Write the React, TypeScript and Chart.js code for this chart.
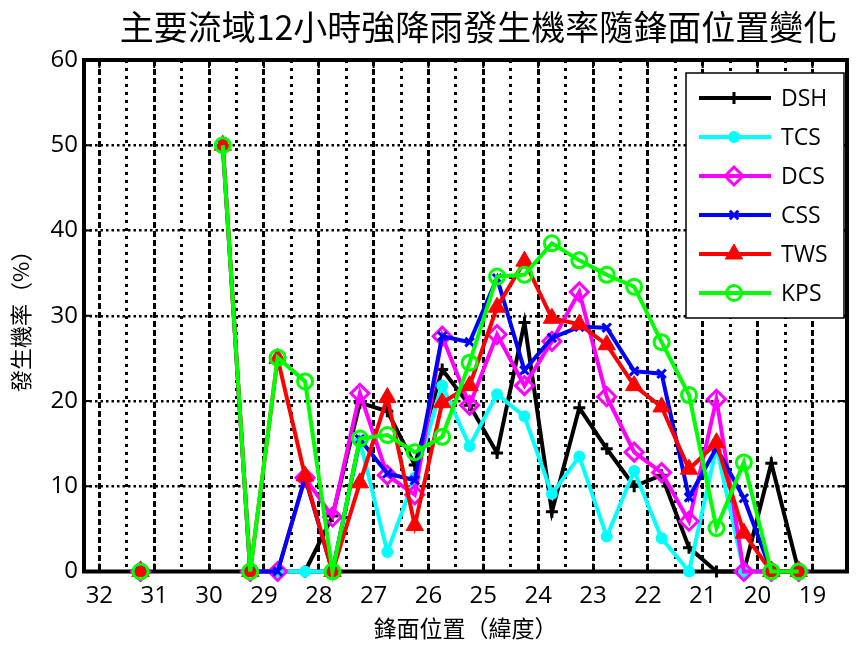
import React, { useEffect, useRef } from 'react';
import { Chart, registerables } from 'chart.js';
import { drawPoint } from 'chart.js/helpers';

Chart.register(...registerables);

// ---- data ----
const latitudes = [31.25, 30.75, 30.25, 29.75, 29.25, 28.75, 28.25, 27.75, 27.25, 26.75, 26.25, 25.75, 25.25, 24.75, 24.25, 23.75, 23.25, 22.75, 22.25, 21.75, 21.25, 20.75, 20.25, 19.75, 19.25];
const gridValues = [32, 31.5, 31, 30.5, 30, 29.5, 29, 28.5, 28, 27.5, 27, 26.5, 26, 25.5, 25, 24.5, 24, 23.5, 23, 22.5, 22, 21.5, 21, 20.5, 20, 19.5, 19];
const seriesNames = ['DSH', 'TCS', 'DCS', 'CSS', 'TWS', 'KPS'];

const dsh = [null, null, null, null, null, null, 0, 6.5, 19.8, 18.8, 12.5, 23.7, 19.5, 13.9, 29.2, 7, 19.2, 14.4, 10, 11.3, 2.8, 0, 0, 12.7, 0];
const tcs = [null, null, null, null, null, 0, 0, 0, 15.3, 2.3, 11, 21.8, 14.7, 20.8, 18.2, 9.1, 13.5, 4.1, 11.8, 3.9, 0, 14.6, 0, 0, 0];
const dcs = [0, null, null, null, 0, 0, 11, 6.4, 20.9, 11.3, 9, 27.6, 19.5, 27.8, 21.8, 27, 32.8, 20.5, 14, 11.6, 5.9, 20.2, 0, 0, 0];
const css = [0, null, null, 50, 0, 0, 11, 0, 15.5, 11.5, 10.7, 27.6, 26.9, 34.4, 23.6, 27.4, 28.7, 28.6, 23.5, 23.2, 8.7, 14.5, 8.6, 0, 0];
const tws = [0, null, null, 50, 0, 25, 11.2, 0, 10.4, 20.4, 5.4, 19.8, 21.8, 31, 36.4, 29.7, 29, 26.6, 21.8, 19.3, 12, 15.1, 4.5, 0, 0];
const kps = [0, null, null, 50, 0, 25.1, 22.3, 0, 15.6, 16, 14, 15.8, 24.5, 34.6, 34.8, 38.5, 36.5, 34.8, 33.4, 26.9, 20.7, 5.1, 12.8, 0, 0];

const yTicks = [0, 10, 20, 30, 40, 50, 60];

const titleText = '主要流域12小時強降雨發生機率隨鋒面位置變化';
const xTitle = '鋒面位置（緯度）';
const yTitle = '發生機率（%）';

// ---- styles ----
const seriesValues = [dsh, tcs, dcs, css, tws, kps];
const lineColors = ['#000000', '#00ffff', '#ff00ff', '#0000ff', '#ff0000', '#00ff00'];
const markerStyles = ['cross', 'circle', 'rectRot', 'crossRot', 'triangle', 'circle'];
const markerRadii = [6, 5, 9, 6, 10, 7.5];
const markerFill = ['#000000', '#00ffff', 'rgba(0,0,0,0)', '#0000ff', '#ff0000', 'rgba(0,0,0,0)'];
const markerBorder = [3, 2, 3, 3, 1, 3];

const CJK = '"Noto Sans CJK TC", "Noto Sans CJK SC", sans-serif';
const SANS = '"Open Sans", "Liberation Sans", sans-serif';

const framePlugin = {
  id: 'frame',
  beforeDatasetsDraw(chart: any) {
    const { ctx, chartArea: a, scales } = chart;
    ctx.save();
    ctx.setLineDash([]);
    ctx.strokeStyle = '#000';
    ctx.lineWidth = 2;
    yTicks.forEach((v) => {
      const y = scales.y.getPixelForValue(v);
      ctx.beginPath();
      ctx.moveTo(a.left, y); ctx.lineTo(a.left + 8, y);
      ctx.moveTo(a.right, y); ctx.lineTo(a.right - 8, y);
      ctx.stroke();
    });
    gridValues.filter((v) => Number.isInteger(v)).forEach((v) => {
      const x = scales.x.getPixelForValue(v);
      ctx.beginPath();
      ctx.moveTo(x, a.bottom); ctx.lineTo(x, a.bottom - 8);
      ctx.moveTo(x, a.top); ctx.lineTo(x, a.top + 8);
      ctx.stroke();
    });
    ctx.lineWidth = 4;
    ctx.strokeRect(a.left, a.top, a.right - a.left, a.bottom - a.top);
    ctx.restore();
  },
};

const titlePlugin = {
  id: 'topTitle',
  afterDraw(chart: any) {
    const { ctx, chartArea: a } = chart;
    ctx.save();
    ctx.fillStyle = '#000';
    ctx.font = `34px ${CJK}`;
    ctx.textAlign = 'center';
    ctx.textBaseline = 'middle';
    ctx.fillText(titleText, (a.left + a.right) / 2 + 13, a.top - 33);
    ctx.restore();
  },
};

const legendPlugin = {
  id: 'boxLegend',
  afterDraw(chart: any) {
    const { ctx, chartArea: a } = chart;
    const w = 158;
    const h = 245;
    const left = a.right - 3 - w;
    const top = a.top + 13;
    ctx.save();
    ctx.setLineDash([]);
    ctx.fillStyle = '#fff';
    ctx.fillRect(left, top, w, h);
    ctx.strokeStyle = '#000';
    ctx.lineWidth = 1.5;
    ctx.strokeRect(left, top, w, h);
    chart.data.datasets.forEach((ds: any, i: number) => {
      const y = top + 25 + i * 39;
      ctx.strokeStyle = ds.borderColor;
      ctx.lineWidth = 4;
      ctx.beginPath();
      ctx.moveTo(left + 13, y);
      ctx.lineTo(left + 85, y);
      ctx.stroke();
      ctx.fillStyle = ds.pointBackgroundColor;
      ctx.strokeStyle = ds.pointBorderColor;
      ctx.lineWidth = ds.pointBorderWidth;
      drawPoint(ctx, { pointStyle: ds.pointStyle, radius: ds.pointRadius, borderWidth: ds.pointBorderWidth, rotation: 0 } as any, left + 48, y);
      ctx.fillStyle = '#000';
      ctx.font = `23px ${SANS}`;
      ctx.textAlign = 'left';
      ctx.textBaseline = 'middle';
      ctx.fillText(ds.label, left + 95, y + 1);
    });
    ctx.restore();
  },
};

export default function App() {
  const ref = useRef<HTMLCanvasElement>(null);
  useEffect(() => {
    const datasets = seriesNames.map((name, i) => ({
      label: name,
      data: latitudes.map((x, j) => ({ x, y: seriesValues[i][j] })),
      borderColor: lineColors[i],
      backgroundColor: lineColors[i],
      borderWidth: 4,
      pointStyle: markerStyles[i],
      pointRadius: markerRadii[i],
      pointBackgroundColor: markerFill[i],
      pointBorderColor: lineColors[i],
      pointBorderWidth: markerBorder[i],
      tension: 0,
      spanGaps: false,
      fill: false,
      clip: false,
      order: seriesNames.length - 1 - i,
    }));
    const chart = new Chart(ref.current as HTMLCanvasElement, {
      type: 'line',
      data: { datasets } as any,
      options: {
        responsive: false,
        animation: false,
        devicePixelRatio: 1,
        layout: { padding: { top: 60, right: 6, left: 0, bottom: 0 } },
        plugins: {
          legend: { display: false },
          tooltip: { enabled: false },
          title: { display: false },
        },
        scales: {
          x: {
            type: 'linear',
            reverse: true,
            min: 18.37,
            max: 32.28,
            afterBuildTicks: (s: any) => {
              s.ticks = gridValues.map((v) => ({ value: v }));
            },
            afterFit: (s: any) => {
              s.height = 76.5;
            },
            ticks: {
              autoSkip: false,
              maxRotation: 0,
              padding: 10,
              color: '#000',
              font: { family: SANS, size: 24 },
              callback: (v: any) => (Number.isInteger(v) ? String(v) : ''),
            },
            grid: {
              color: '#000',
              lineWidth: (c: any) => (c.tick && Number.isInteger(c.tick.value) ? 3 : 3),
              drawTicks: false,
            },
            border: {
              display: false,
              dash: (c: any) => (c.tick && Number.isInteger(c.tick.value) ? [6, 3] : [3, 5]),
            },
            title: {
              display: true,
              text: xTitle,
              color: '#000',
              font: { family: CJK, size: 23 },
              padding: { top: 0, bottom: 6 },
            },
          },
          y: {
            type: 'linear',
            min: 0,
            max: 60,
            afterBuildTicks: (s: any) => {
              s.ticks = yTicks.map((v) => ({ value: v }));
            },
            afterFit: (s: any) => {
              s.width = 84;
            },
            ticks: {
              padding: 6,
              color: '#000',
              font: { family: SANS, size: 24 },
            },
            grid: { color: '#000', lineWidth: 2.5, drawTicks: false },
            border: { display: false, dash: [2.5, 3] },
            title: {
              display: true,
              text: yTitle,
              color: '#000',
              font: { family: CJK, size: 22 },
              padding: { top: 7, bottom: 0 },
            },
          },
        },
      } as any,
      plugins: [framePlugin, legendPlugin, titlePlugin],
    });
    return () => chart.destroy();
  }, []);
  return (
    <div style={{ position: 'absolute', left: 0, top: 0, width: 859, height: 648, background: '#fff' }}>
      <canvas ref={ref} width={859} height={648} style={{ display: 'block' }} />
    </div>
  );
}
